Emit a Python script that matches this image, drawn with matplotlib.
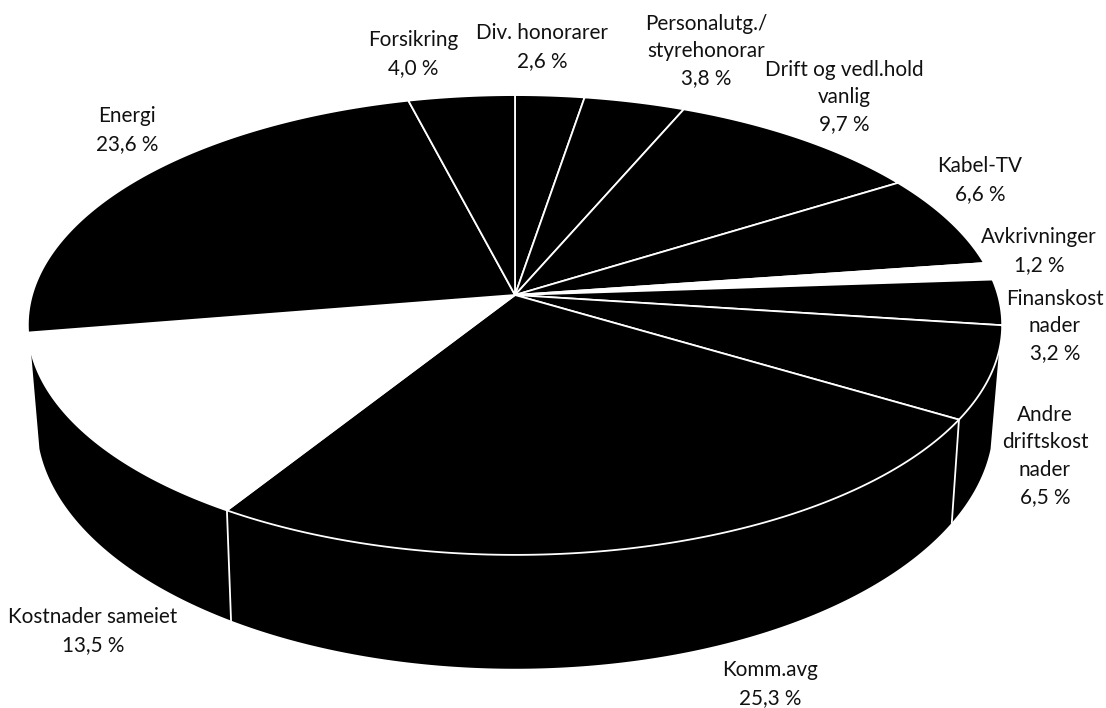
import numpy as np
import matplotlib
matplotlib.use("Agg")
import matplotlib.pyplot as plt

labels = ["Div. honorarer\n2,6 %", "Personalutg./\nstyrehonorar\n3,8 %", "Drift og vedl.hold\nvanlig\n9,7 %",
          "Kabel-TV\n6,6 %", "Avkrivninger\n1,2 %", "Finanskost\nnader\n3,2 %",
          "Andre\ndriftskost\nnader\n6,5 %", "Komm.avg\n25,3 %", "Kostnader sameiet\n13,5 %",
          "Energi\n23,6 %", "Forsikring\n4,0 %"]
values = [2.6, 3.8, 9.7, 6.6, 1.2, 3.2, 6.5, 25.3, 13.5, 23.6, 4.0]
colors = ["black", "black", "black", "black", "white", "black", "black", "black", "white", "black", "black"]
label_x = [542, 706, 844, 980, 1039, 1055, 1045, 770, 93, 127, 413]
label_y = [47, 51, 97, 180, 251, 326, 456, 684, 631, 130, 54]

TOP = dict(cx=515, cy=295, A=483, B=226, k=0.1304)
BOT = dict(cx=515, cy=389, A=474, B=242, k=0.135)
WALL_TIP_V = -0.24


def project(theta, g):
    u, v = np.sin(theta), np.cos(theta)
    d = 1 + g["k"] * v
    return g["cx"] + g["A"] * u / d, g["cy"] - g["B"] * v / d


fig = plt.figure(figsize=(11.06, 7.08), dpi=100)
ax = fig.add_axes([0, 0, 1, 1])
ax.set_xlim(0, 1106)
ax.set_ylim(708, 0)
ax.axis("off")

edges = np.radians(np.concatenate([[0], np.cumsum(values)]) * 3.6)

# side wall: only the front part shows, from one tip on the rim to the other
tip = np.arccos(WALL_TIP_V)
th = np.linspace(tip, 2 * np.pi - tip, 400)
xt, yt = project(th, TOP)
xb, yb = project(th, BOT)
ax.fill(np.r_[xt, xb[::-1]], np.r_[yt, yb[::-1]], color="black", lw=0, zorder=1)

# wall separators on the visible front
for t in edges:
    if np.cos(t) < WALL_TIP_V:
        x0, y0 = project(t, TOP)
        x1, y1 = project(t, BOT)
        ax.plot([x0, x1], [y0, y1], color="white", lw=1.3, zorder=2)

# top face
for t0, t1, c in zip(edges[:-1], edges[1:], colors):
    th = np.linspace(t0, t1, 200)
    x, y = project(th, TOP)
    ax.fill(np.r_[TOP["cx"], x], np.r_[TOP["cy"], y], facecolor=c, edgecolor="white", lw=1.3,
            joinstyle="round", zorder=3)

for s, x, y in zip(labels, label_x, label_y):
    ax.text(x, y, s, ha="center", va="center", family="Lato", fontsize=14.9, color="#111111",
            linespacing=1.46, zorder=4)

fig.savefig("out.png", dpi=100)
